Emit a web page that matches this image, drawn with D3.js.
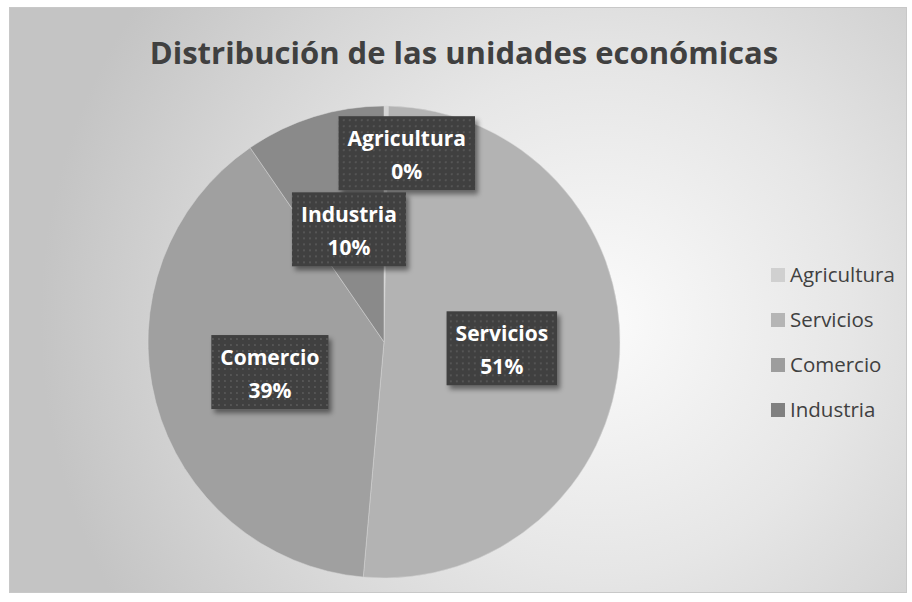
<!DOCTYPE html>
<html>
<head>
<meta charset="utf-8">
<script src="https://cdn.jsdelivr.net/npm/d3@7"></script>
<style>
  html, body { margin: 0; padding: 0; background: #ffffff; }
  svg { display: block; }
</style>
</head>
<body>
<div id="chart"></div>
<script>
// chart data
const title = 'Distribución de las unidades económicas';
const categories = ['Agricultura', 'Servicios', 'Comercio', 'Industria'];
const values = [0.3, 51.1, 39.0, 9.6];
const sliceColors = ['#d6d6d6', '#b3b3b3', '#a0a0a0', '#8a8a8a'];
const legendColors = ['#d0d0d0', '#b5b5b5', '#9d9d9d', '#808080'];

const width = 912;
const height = 602;
const frame = { x: 9, y: 7, w: 897, h: 585 };
const cx = 384;
const cy = 342;
const radius = 236;

const svg = d3.select('#chart').append('svg')
  .attr('width', width)
  .attr('height', height);

const defs = svg.append('defs');

// background glow
const bg = defs.append('radialGradient')
  .attr('id', 'bg')
  .attr('gradientUnits', 'userSpaceOnUse')
  .attr('cx', 600).attr('cy', 320).attr('r', 560);
bg.append('stop').attr('offset', '0%').attr('stop-color', '#fbfbfb');
bg.append('stop').attr('offset', '45%').attr('stop-color', '#e6e6e6');
bg.append('stop').attr('offset', '100%').attr('stop-color', '#c4c4c4');

// dotted fill of the data label boxes
const dots = defs.append('pattern')
  .attr('id', 'dots')
  .attr('patternUnits', 'userSpaceOnUse')
  .attr('width', 6).attr('height', 6);
dots.append('rect').attr('width', 6).attr('height', 6).attr('fill', '#3f3f3f');
dots.append('rect').attr('x', 2).attr('y', 2).attr('width', 2).attr('height', 2).attr('fill', '#555555');

const shadow = defs.append('filter')
  .attr('id', 'shadow')
  .attr('x', '-20%').attr('y', '-20%')
  .attr('width', '150%').attr('height', '150%');
shadow.append('feDropShadow')
  .attr('dx', 3).attr('dy', 4)
  .attr('stdDeviation', 2.5)
  .attr('flood-color', '#000')
  .attr('flood-opacity', 0.45);

svg.append('rect')
  .attr('x', frame.x + 0.5).attr('y', frame.y + 0.5)
  .attr('width', frame.w).attr('height', frame.h)
  .attr('fill', 'url(#bg)')
  .attr('stroke', '#c8c8c8');

// title
svg.append('text')
  .attr('x', 464)
  .attr('y', 64)
  .attr('text-anchor', 'middle')
  .attr('font-family', '"Open Sans", sans-serif')
  .attr('font-weight', 700)
  .attr('font-size', 31)
  .attr('fill', '#404040')
  .text(title);

// pie
const pie = d3.pie().sort(null).value((d) => d);
const arcs = pie(values);
const arc = d3.arc().innerRadius(0).outerRadius(radius);
const labelArc = d3.arc().innerRadius(radius * 0.5).outerRadius(radius * 0.5);
const outerLabelArc = d3.arc().innerRadius(radius * 0.8).outerRadius(radius * 0.8);

const g = svg.append('g').attr('transform', `translate(${cx},${cy})`);

g.selectAll('path.slice')
  .data(arcs)
  .enter()
  .append('path')
  .attr('class', 'slice')
  .attr('d', arc)
  .attr('fill', (d, i) => sliceColors[i])
  .attr('stroke', '#d8d8d8')
  .attr('stroke-opacity', 0.5)
  .attr('stroke-width', 1);

// data labels
const pct = (v) => `${Math.round(v)}%`;
const labels = g.selectAll('g.label')
  .data(arcs)
  .enter()
  .append('g')
  .attr('class', 'label')
  .attr('transform', (d) => {
    // tiny slices get pushed outward and nudged aside like Excel does
    const small = d.endAngle - d.startAngle < 0.1;
    const [x, y] = small ? outerLabelArc.centroid(d) : labelArc.centroid(d);
    return `translate(${small ? x + 21 : x},${y})`;
  });

labels.each(function (d, i) {
  const lg = d3.select(this);
  const box = lg.append('rect').attr('fill', 'url(#dots)').attr('filter', 'url(#shadow)');
  const t = lg.append('text')
    .attr('text-anchor', 'middle')
    .attr('font-family', '"Open Sans", sans-serif')
    .attr('font-weight', 700)
    .attr('font-size', 21)
    .attr('fill', '#ffffff');
  t.append('tspan').attr('x', 0).attr('y', -7).text(categories[i]);
  t.append('tspan').attr('x', 0).attr('y', 26).text(pct(d.data));
  const w = t.node().getBBox().width + 18;
  box.attr('x', -w / 2).attr('y', -37).attr('width', w).attr('height', 74);
});

// legend
const legendY = d3.scalePoint().domain(categories).range([275, 410]);
const legend = svg.append('g')
  .selectAll('g')
  .data(categories)
  .enter()
  .append('g')
  .attr('transform', (d) => `translate(771,${legendY(d)})`);

legend.append('rect')
  .attr('x', 0).attr('y', -7)
  .attr('width', 14).attr('height', 14)
  .attr('fill', (d, i) => legendColors[i]);

legend.append('text')
  .attr('x', 19)
  .attr('y', 0)
  .attr('dy', '0.36em')
  .attr('font-family', '"Open Sans", sans-serif')
  .attr('font-size', 20.5)
  .attr('fill', '#404040')
  .text((d) => d);
</script>
</body>
</html>
